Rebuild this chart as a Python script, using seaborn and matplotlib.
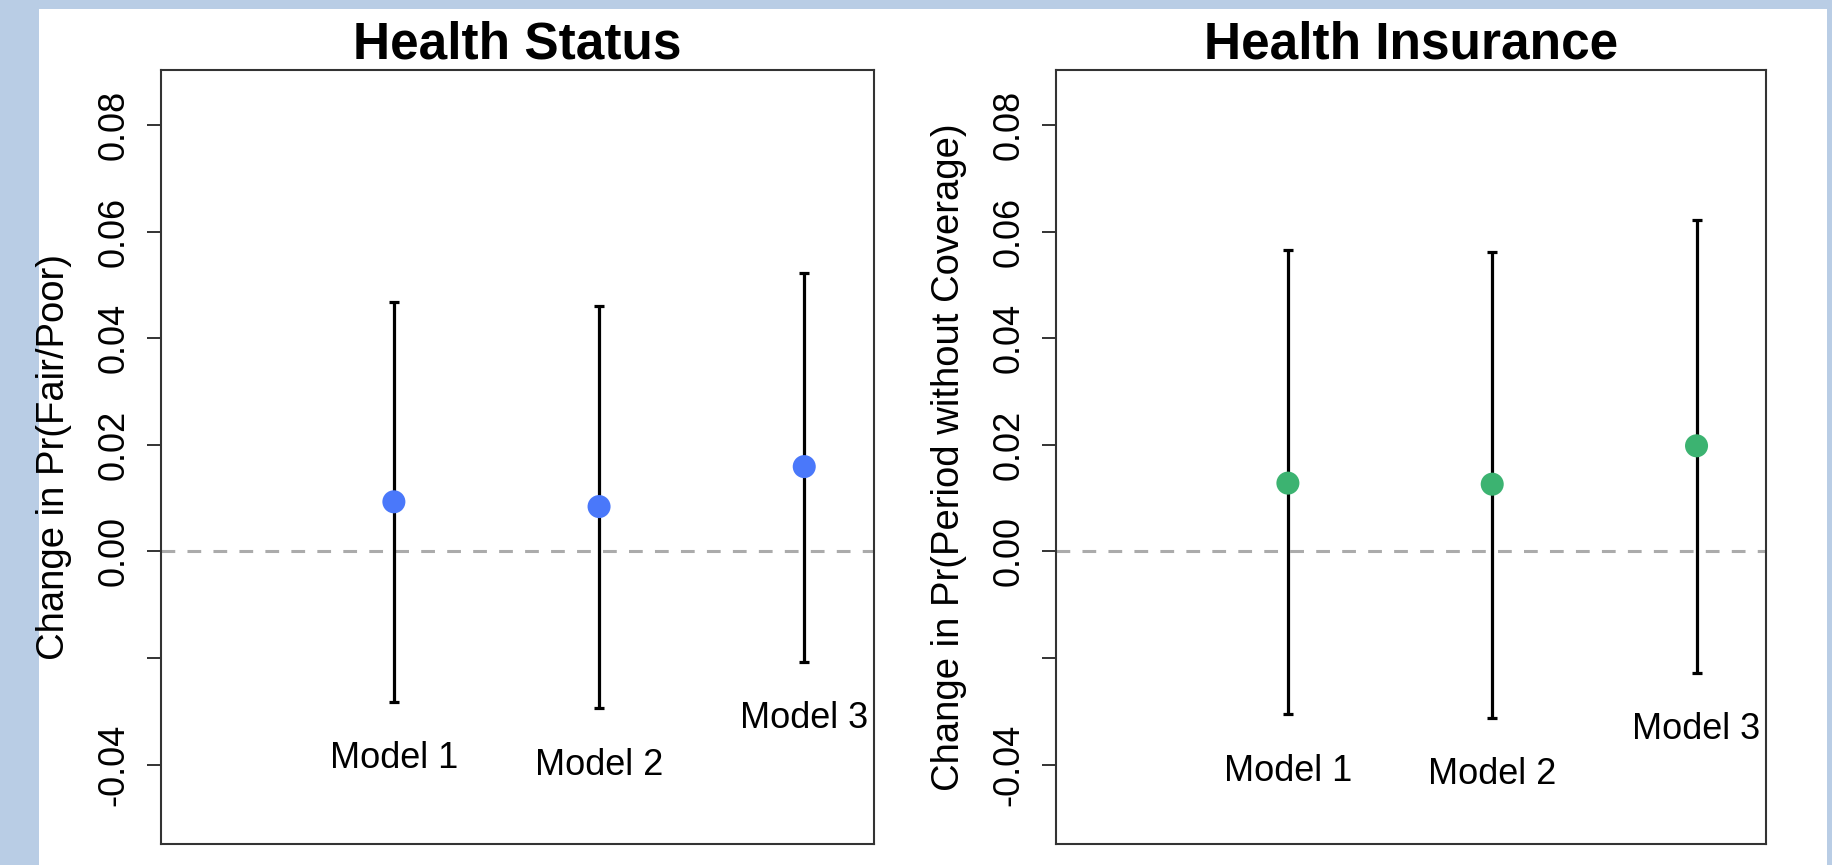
import matplotlib
matplotlib.use("Agg")
import matplotlib.pyplot as plt
from matplotlib.patches import Rectangle
import seaborn as sns
import numpy as np
import pandas as pd

models = ["Model 1", "Model 2", "Model 3"]

status_est = [0.0093, 0.0084, 0.0159]
status_lo = [-0.0282, -0.0294, -0.0207]
status_hi = [0.0467, 0.0461, 0.0523]

insur_est = [0.0128, 0.0126, 0.0198]
insur_lo = [-0.0306, -0.0312, -0.0228]
insur_hi = [0.0565, 0.0561, 0.0622]

y_ticks = [-0.04, -0.02, 0.00, 0.02, 0.04, 0.06, 0.08]
y_tick_labels = ["-0.04", "", "0.00", "0.02", "0.04", "0.06", "0.08"]

panels = [
    ("Health Status", "Change in Pr(Fair/Poor)", status_est, status_lo, status_hi, "#4A78FA"),
    ("Health Insurance", "Change in Pr(Period without Coverage)", insur_est, insur_lo, insur_hi, "#3CB371"),
]

sns.set_style("white")
plt.rcParams["font.family"] = ["Liberation Sans", "DejaVu Sans"]
plt.rcParams["text.color"] = "black"
plt.rcParams["axes.labelcolor"] = "black"
plt.rcParams["ytick.color"] = "black"

W, H = 1832, 865
fig = plt.figure(figsize=(W / 100, H / 100), dpi=100)
fig.patch.set_facecolor("#B9CDE5")
fig.patches.append(Rectangle((39 / W, 0), (1827 - 39) / W, (H - 9) / H,
                             transform=fig.transFigure, facecolor="white",
                             edgecolor="none", zorder=-5))

# axes boxes in pixels: left, right
boxes = [(161, 874), (1056, 1766)]
top, bottom = 70, 844

for (title, ylabel, est, lo, hi, color), (x0, x1) in zip(panels, boxes):
    ax = fig.add_axes([x0 / W, (H - bottom) / H, (x1 - x0) / W, (bottom - top) / H])
    ax.set_zorder(2)
    df = pd.DataFrame({"model": models, "pos": np.arange(1, len(models) + 1),
                       "est": est, "lo": lo, "hi": hi})

    ax.axhline(0, color="#ABABAB", lw=2.2, dashes=(4.5, 4), zorder=1)
    ax.errorbar(df["pos"], df["est"], yerr=[df["est"] - df["lo"], df["hi"] - df["est"]],
                fmt="none", ecolor="black", elinewidth=2.3, capsize=3.3, capthick=2.3, zorder=2)
    sns.scatterplot(data=df, x="pos", y="est", color=color, s=275, edgecolor="none",
                    ax=ax, zorder=3, legend=False)

    for _, r in df.iterrows():
        ax.annotate(r["model"], xy=(r["pos"], r["lo"]), xytext=(0, -41),
                    textcoords="offset points", ha="center", va="center",
                    fontsize=26, color="black")

    ax.set_xlim(-0.135, 3.34)
    ax.set_ylim(-0.0549, 0.0903)
    ax.set_xticks([])
    ax.set_yticks(y_ticks)
    ax.set_yticklabels(y_tick_labels, rotation=90, va="center", fontsize=26, color="black")
    ax.tick_params(axis="y", direction="out", length=10, width=1.4, pad=11, color="#333333", left=True)
    ax.set_xlabel("")
    ax.set_ylabel(ylabel, fontsize=27.5, color="black")
    ax.yaxis.set_label_coords(-0.125 * 713 / (x1 - x0), 0.5)
    ax.set_title(title, fontsize=37, fontweight="bold", pad=8, color="black")
    for s in ax.spines.values():
        s.set_visible(True)
        s.set_color("#333333")
        s.set_linewidth(1.5)

fig.savefig("out.png", dpi=100, facecolor=fig.get_facecolor())
